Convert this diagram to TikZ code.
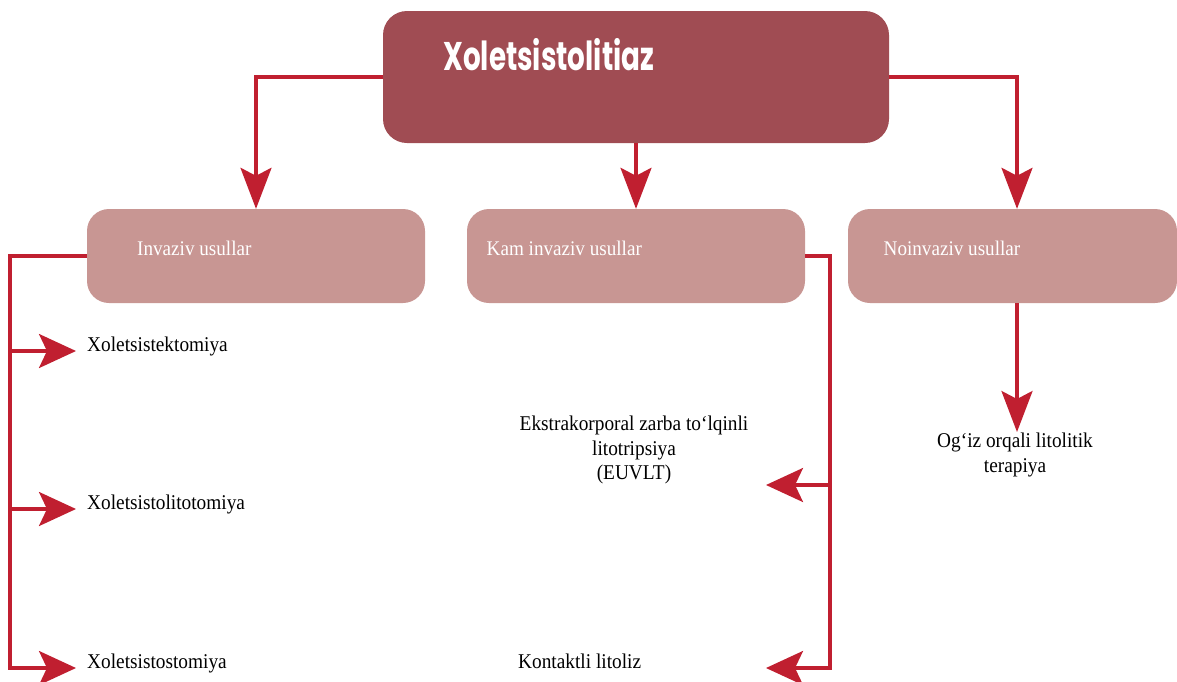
\documentclass[tikz,border=0pt]{standalone}
\usepackage{fontspec}
\usepackage{graphicx}
\setmainfont{Liberation Serif}[FakeStretch=0.92]
\newfontfamily\titlefont{Poppins}
\usetikzlibrary{arrows.meta,calc}
\definecolor{mainbox}{HTML}{A04C53}
\definecolor{subbox}{HTML}{C89693}
\definecolor{linkred}{HTML}{C01F30}

\begin{document}
\begin{tikzpicture}[x=1pt,y=-1pt,
  conn/.style={draw=linkred,line width=3.2pt},
  tipdown/.style={-{Stealth[length=41pt,width=31pt,inset=8pt]}},
  tipside/.style={-{Stealth[length=37pt,width=34pt,inset=8pt]}},
  headbox/.style={fill=mainbox,rounded corners=24pt,minimum width=506pt,minimum height=132pt,inner sep=0pt},
  groupbox/.style={fill=subbox,rounded corners=22pt,minimum width=338pt,minimum height=94pt,inner sep=0pt},
  boxtext/.style={anchor=base west,inner sep=0pt,text=white,font=\fontsize{20.8}{24}\selectfont},
  item/.style={anchor=base west,inner sep=0pt,font=\fontsize{21}{24.5}\selectfont},
  itemc/.style={align=center,inner sep=0pt,font=\fontsize{21}{24.5}\selectfont}
]
\useasboundingbox (0,0) rectangle (1177,681);

% main heading box
\node[headbox] (top) at (636,77) {};
\node[anchor=base west,inner sep=0pt,text=white,font=\titlefont\bfseries\fontsize{40}{42}\selectfont]
  (title) at (443,70) {\resizebox{211pt}{\height}{Xoletsistolitiaz}};

% method groups
\node[groupbox] (inv) at (256,256) {};
\node[groupbox] (kam) at (636,256) {};
\node[groupbox,minimum width=329pt] (non) at (1012.5,256) {};
\node[boxtext] (invt) at (137,255) {Invaziv usullar};
\node[boxtext] (kamt) at (486.5,255) {Kam invaziv usullar};
\node[boxtext] (nont) at (883.5,255) {Noinvaziv usullar};

% heading to groups
\draw[conn,tipdown] (top.west) -| (inv.north);
\draw[conn,tipdown] (top.south) -- (kam.north);
\draw[conn,tipdown] (top.east) -| ([xshift=4.5pt]non.north);

% invasive methods
\node[item] (ekt) at (87,351) {Xoletsistektomiya};
\node[item] (lit) at (87,509) {Xoletsistolitotomiya};
\node[item] (sto) at (87,668) {Xoletsistostomiya};
\coordinate (trunkL) at (10,668);
\draw[conn,tipside] (inv.west) -| (trunkL) -- ([xshift=-11pt]sto.base west);
\draw[conn,tipside] (trunkL |- ekt.base west) -- ([xshift=-11pt]ekt.base west);
\draw[conn,tipside] (trunkL |- lit.base west) -- ([xshift=-11pt]lit.base west);

% minimally invasive methods
\node[itemc] (eswl) at (634,450) {Ekstrakorporal zarba to‘lqinli\\litotripsiya\\(EUVLT)};
\node[item] (kon) at (518,668) {Kontaktli litoliz};
\coordinate (trunkR) at (830,668);
\coordinate (eswlin) at (766,485);
\coordinate (konin) at (766,668);
\draw[conn,tipside] (kam.east) -| (trunkR) -- (konin);
\draw[conn,tipside] (trunkR |- eswlin) -- (eswlin);

% non-invasive method
\node[itemc] (oral) at (1015,455) {Og‘iz orqali litolitik\\terapiya};
\coordinate (oralin) at (1017,432);
\draw[conn,tipdown] ([xshift=4.5pt]non.south) -- (oralin);
\end{tikzpicture}
\end{document}
